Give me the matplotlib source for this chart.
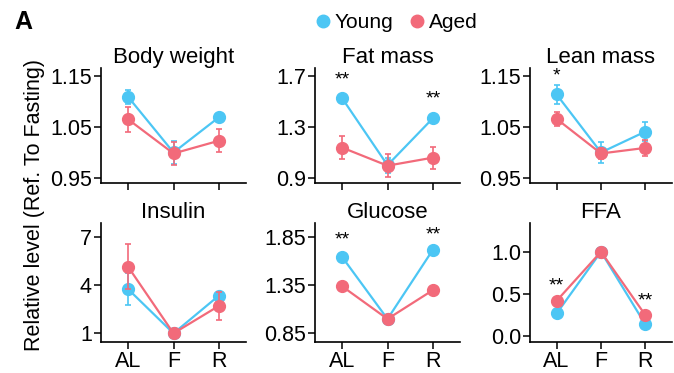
import matplotlib
matplotlib.use("Agg")
import matplotlib.pyplot as plt
from matplotlib.lines import Line2D

plt.rcParams['font.family'] = ['Liberation Sans', 'DejaVu Sans']

conditions = ["AL", "F", "R"]
panel_titles = ["Body weight", "Fat mass", "Lean mass", "Insulin", "Glucose", "FFA"]

young_mean = {
    "Body weight": [1.109, 1.000, 1.069],
    "Fat mass": [1.525, 1.000, 1.368],
    "Lean mass": [1.114, 1.000, 1.041],
    "Insulin": [3.75, 1.0, 3.35],
    "Glucose": [1.645, 1.0, 1.72],
    "FFA": [0.27, 1.0, 0.14],
}
young_err = {
    "Body weight": [0.014, 0.022, 0.008],
    "Fat mass": [0.02, 0.06, 0.03],
    "Lean mass": [0.018, 0.02, 0.019],
    "Insulin": [1.0, 0.1, 0.2],
    "Glucose": [0.02, 0.01, 0.02],
    "FFA": [0.02, 0.01, 0.02],
}
aged_mean = {
    "Body weight": [1.065, 0.998, 1.023],
    "Fat mass": [1.138, 0.996, 1.059],
    "Lean mass": [1.066, 0.998, 1.009],
    "Insulin": [5.14, 1.0, 2.71],
    "Glucose": [1.34, 1.0, 1.30],
    "FFA": [0.42, 1.0, 0.25],
}
aged_err = {
    "Body weight": [0.025, 0.023, 0.023],
    "Fat mass": [0.09, 0.09, 0.086],
    "Lean mass": [0.014, 0.01, 0.015],
    "Insulin": [1.4, 0.1, 0.85],
    "Glucose": [0.02, 0.01, 0.02],
    "FFA": [0.02, 0.01, 0.02],
}
yticks = {
    "Body weight": ([0.95, 1.05, 1.15], ["0.95", "1.05", "1.15"]),
    "Fat mass": ([0.9, 1.3, 1.7], ["0.9", "1.3", "1.7"]),
    "Lean mass": ([0.95, 1.05, 1.15], ["0.95", "1.05", "1.15"]),
    "Insulin": ([1, 4, 7], ["1", "4", "7"]),
    "Glucose": ([0.85, 1.35, 1.85], ["0.85", "1.35", "1.85"]),
    "FFA": ([0.0, 0.5, 1.0], ["0.0", "0.5", "1.0"]),
}
ylims = {
    "Body weight": (0.94, 1.166),
    "Fat mass": (0.86, 1.763),
    "Lean mass": (0.94, 1.166),
    "Insulin": (0.46, 7.88),
    "Glucose": (0.76, 2.0),
    "FFA": (-0.067, 1.34),
}
# significance stars: (condition index, baseline y, text)
stars = {
    "Fat mass": [(0, 1.633, "**"), (2, 1.482, "**")],
    "Lean mass": [(0, 1.141, "*")],
    "Glucose": [(0, 1.778, "**"), (2, 1.83, "**")],
    "FFA": [(0, 0.537, "**"), (2, 0.366, "**")],
}

young_color = "#4CC6F4"
aged_color = "#F26A7A"

fig = plt.figure(figsize=(6.74, 3.73), dpi=100)
W, H = 674, 373
lefts = [101, 315, 530]
widths = [145, 145, 142]
rows = [(68, 183), (223, 342)]

x = list(range(len(conditions)))
for i, name in enumerate(panel_titles):
    r, c = divmod(i, 3)
    top, bot = rows[r]
    ax = fig.add_axes([lefts[c] / W, 1 - bot / H, widths[c] / W, (bot - top) / H])
    ax.errorbar(x, young_mean[name], yerr=young_err[name], color=young_color,
                marker='o', markersize=8.5, lw=1.6, capsize=2.5, elinewidth=1.2,
                capthick=1.2, zorder=2)
    ax.errorbar(x, aged_mean[name], yerr=aged_err[name], color=aged_color,
                marker='o', markersize=8.5, lw=1.6, capsize=2.5, elinewidth=1.2,
                capthick=1.2, zorder=3)
    ax.set_xlim(-0.6, 2.6)
    ax.set_ylim(*ylims[name])
    ax.set_yticks(yticks[name][0])
    ax.set_yticklabels(yticks[name][1])
    ax.set_xticks(x)
    if r == 1:
        ax.set_xticklabels(conditions)
    else:
        ax.set_xticklabels([])
    for s in ["top", "right"]:
        ax.spines[s].set_visible(False)
    for s in ["left", "bottom"]:
        ax.spines[s].set_linewidth(1.2)
    ax.tick_params(axis='both', labelsize=15.5, length=5, width=1.1, pad=1.5)
    ax.set_title(name, fontsize=16, pad=3)
    for ci, yy, t in stars.get(name, []):
        ax.text(ci, yy, t, ha='center', va='baseline', fontsize=14)

fig.text(35 / W, 1 - 205 / H, "Relative level (Ref. To Fasting)", rotation=90,
         ha='center', va='center', fontsize=15.5)
fig.text(14 / W, 1 - 22 / H, "A", fontsize=18, fontweight='bold', ha='left', va='center')

handles = [Line2D([], [], color=young_color, marker='o', ls='', markersize=9),
           Line2D([], [], color=aged_color, marker='o', ls='', markersize=9)]
fig.legend(handles, ["Young", "Aged"], loc='center', bbox_to_anchor=(395 / W, 1 - 23 / H),
           ncol=2, frameon=False, fontsize=15, handletextpad=0.1, columnspacing=0.6,
           handlelength=1.0, borderaxespad=0)

fig.savefig("out.png", dpi=100)
